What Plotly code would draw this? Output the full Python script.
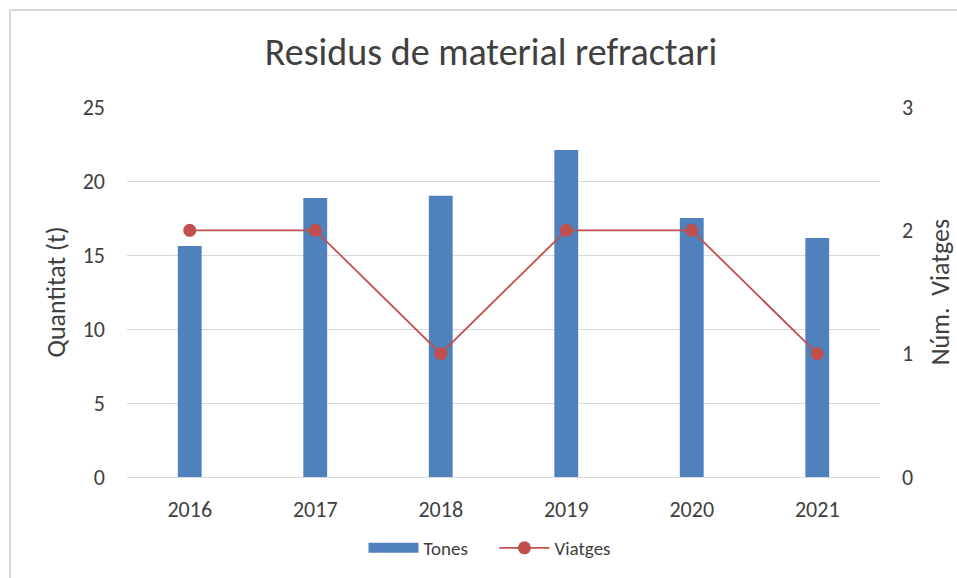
import plotly.graph_objects as go

years = ["2016", "2017", "2018", "2019", "2020", "2021"]
tones = [15.6, 18.85, 19.0, 22.1, 17.5, 16.15]
viatges = [2, 2, 1, 2, 2, 1]

FONT = "Carlito, Calibri, 'Liberation Sans Narrow', 'Open Sans', sans-serif"
W, H = 957, 578
L, R, T, B = 127, 77, 107, 101
pw, ph = W - L - R, H - T - B

BAR_C = "#4F81BD"
LINE_C = "#C0504D"
TXT = "#595959"

fig = go.Figure()
fig.add_trace(go.Bar(x=years, y=tones, name="Tones", marker=dict(color=BAR_C, line=dict(width=0)),
                     width=0.19, yaxis="y", showlegend=False))
# legend sample for bars (wide rectangle like the original)
fig.add_trace(go.Scatter(x=[None], y=[None], name="Tones\u00a0\u00a0\u00a0\u00a0\u00a0", mode="lines",
                         line=dict(color=BAR_C, width=10), yaxis="y", hoverinfo="skip"))
fig.add_trace(go.Scatter(x=years, y=viatges, name="Viatges", mode="lines+markers",
                         line=dict(color=LINE_C, width=1.8),
                         marker=dict(color=LINE_C, size=13), yaxis="y2"))

def px(x):
    return (x - L) / pw
def py(y):
    return (H - B - y) / ph

fig.update_layout(
    width=W, height=H,
    margin=dict(l=L, r=R, t=T, b=B, autoexpand=False),
    paper_bgcolor="white", plot_bgcolor="white",
    font=dict(family=FONT, color=TXT, size=22),
    title=dict(text="Residus de material refractari", x=491 / W, xanchor="center", y=1 - 52 / H, yanchor="middle",
               font=dict(size=38, color="#404040", family=FONT)),
    xaxis=dict(range=[-0.5, 5.5], showgrid=False, showline=False, ticks="", ticklabelstandoff=17,
               tickfont=dict(size=22, color="#404040")),
    yaxis=dict(range=[0, 25], dtick=5, showgrid=True, gridcolor="#D9D9D9", gridwidth=1, zeroline=True,
               zerolinecolor="#D9D9D9", zerolinewidth=1, showline=False, ticks="", ticklabelstandoff=21,
               tickfont=dict(size=22, color="#404040"),
               title=dict(text="Quantitat (t)", font=dict(size=26, color="#404040"), standoff=9)),
    yaxis2=dict(range=[0, 3], dtick=1, overlaying="y", side="right", showgrid=False, zeroline=False,
                showline=False, ticks="", ticklabelstandoff=21, tickfont=dict(size=22, color="#404040"),
                title=dict(text="Núm.\u00a0 Viatges", font=dict(size=26, color="#404040"), standoff=18)),
    legend=dict(orientation="h", x=px(490), xanchor="center", y=py(548), yanchor="middle",
                font=dict(size=19, color="#404040"), itemwidth=50, traceorder="normal"),
    shapes=[
        dict(type="line", xref="paper", yref="paper", x0=px(10), x1=px(957), y0=py(10), y1=py(10),
             line=dict(color="#D9D9D9", width=2)),
        dict(type="line", xref="paper", yref="paper", x0=px(10), x1=px(10), y0=py(10), y1=py(578),
             line=dict(color="#D9D9D9", width=2)),
    ],
)

fig.write_html("out.html", config={"displayModeBar": False},
               post_script="document.body.style.margin='0';document.body.style.overflow='hidden';")
